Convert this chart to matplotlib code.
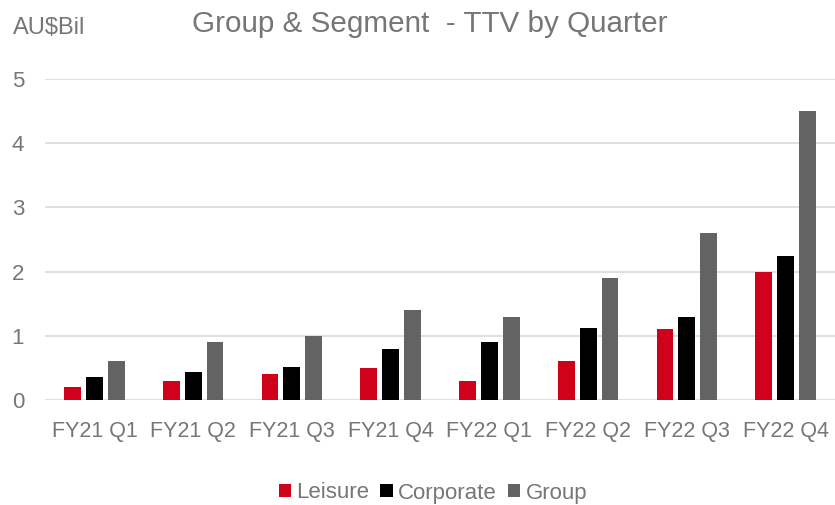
import numpy as np
import matplotlib.pyplot as plt

quarters = ['FY21 Q1', 'FY21 Q2', 'FY21 Q3', 'FY21 Q4',
            'FY22 Q1', 'FY22 Q2', 'FY22 Q3', 'FY22 Q4']
leisure = [0.2, 0.3, 0.4, 0.5, 0.3, 0.6, 1.1, 2.0]
corporate = [0.36, 0.43, 0.52, 0.80, 0.90, 1.12, 1.29, 2.25]
group = [0.6, 0.9, 1.0, 1.4, 1.3, 1.9, 2.6, 4.5]

plt.rcParams['font.family'] = ['Liberation Sans', 'DejaVu Sans']
text_color = '#767676'

fig = plt.figure(figsize=(8.35, 5.05), dpi=100)
ax = fig.add_axes([45 / 835, 1 - 400 / 505, 790 / 835, 321 / 505])

x = np.arange(len(quarters))
w = 0.17
pitch = 0.222
ax.bar(x - pitch, leisure, w, color='#d0021b', label='Leisure', zorder=3)
ax.bar(x, corporate, w, color='#000000', label='Corporate', zorder=3)
ax.bar(x + pitch, group, w, color='#636363', label='Group', zorder=3)

ax.set_xlim(-0.5, len(quarters) - 0.5)
ax.set_ylim(0, 5)
ax.set_yticks(range(6))
ax.set_xticks(x)
ax.set_xticklabels(quarters)
ax.grid(axis='y', color='#d9d9d9', linewidth=1.2, zorder=0)
for s in ax.spines.values():
    s.set_visible(False)
ax.tick_params(axis='both', length=0, colors=text_color)
ax.tick_params(axis='x', labelsize=15.5, pad=15)
ax.tick_params(axis='y', labelsize=16, pad=15)

fig.text(13 / 835, 1 - 28 / 505, 'AU$Bil', fontsize=17, color=text_color, va='center')
fig.text(430 / 835, 1 - 24 / 505, 'Group & Segment  - TTV by Quarter',
         fontsize=21.3, color=text_color, ha='center', va='center')

fig.legend(loc='center', bbox_to_anchor=(433 / 835, 1 - 493 / 505), ncol=3,
           frameon=False, fontsize=16, labelcolor=text_color,
           handlelength=0.55, handleheight=0.55, handletextpad=0.25,
           columnspacing=0.5)

fig.savefig('out.png', dpi=100)
